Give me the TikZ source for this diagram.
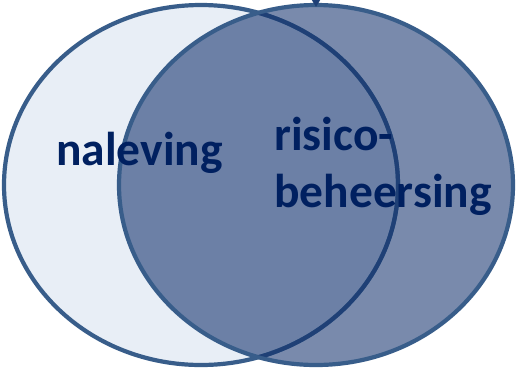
\documentclass[tikz,border=0pt]{standalone}
\usepackage{fontspec}
\setmainfont{Carlito}
\usetikzlibrary{arrows.meta}
\definecolor{ringblue}{RGB}{56, 93, 138}
\definecolor{ringdark}{RGB}{31, 64, 118}
\definecolor{palefill}{RGB}{232, 238, 246}
\definecolor{riskfill}{RGB}{121, 138, 172}
\definecolor{bothfill}{RGB}{108, 128, 166}
\definecolor{labelnavy}{RGB}{0, 32, 96}

\begin{document}
\begin{tikzpicture}[x=1pt, y=-1pt,
  ring/.style={line width=4.2pt},
  setlabel/.style={font=\fontsize{47.5}{57}\selectfont\bfseries, text=labelnavy, anchor=base west, inner sep=0pt}]
\useasboundingbox (0,0) rectangle (520,368);

% Fills
\fill[palefill] (201,185) ellipse [x radius=197, y radius=180];
\fill[riskfill] (316,185) ellipse [x radius=197, y radius=180];
\begin{scope}
  \clip (201,185) ellipse [x radius=197, y radius=180];
  \fill[bothfill] (316,185) ellipse [x radius=197, y radius=180];
\end{scope}

% Outlines (left arc darker inside the right set)
\draw[ring, ringblue] (201,185) ellipse [x radius=197, y radius=180];
\draw[ring, ringblue] (316,185) ellipse [x radius=197, y radius=180];
\begin{scope}
  \clip (316,185) ellipse [x radius=195, y radius=178];
  \draw[ring, ringdark] (201,185) ellipse [x radius=197, y radius=180];
\end{scope}

% Arrow coming in from above
\coordinate (feed) at (316,-12);
\coordinate (risktop) at (316,7);
\draw[ringdark, line width=2pt, -{Triangle[width=9pt, length=8pt]}] (feed) -- (risktop);

% Labels
\node[setlabel] (naleving) at (56,165) {naleving};
\node[setlabel] (risico) at (274,150) {risico-};
\node[setlabel] (beheersing) at (274,207) {beheersing};
\end{tikzpicture}
\end{document}
